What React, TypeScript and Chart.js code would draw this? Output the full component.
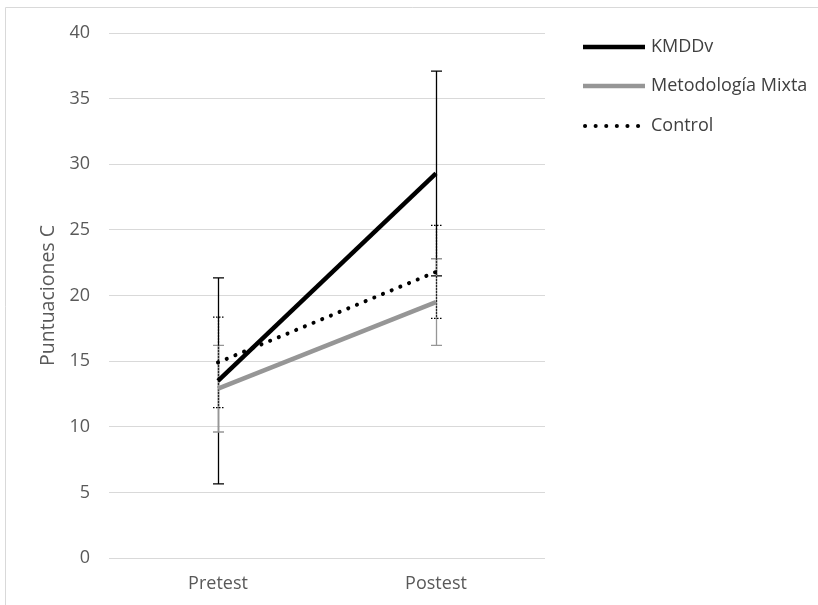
import React, { useEffect, useRef } from "react";
import { Chart, registerables } from "chart.js";

Chart.register(...registerables);

const categories = ["Pretest", "Postest"];
const seriesNames = ["KMDDv", "Metodología Mixta", "Control"];
const kmddvMean = [13.5, 29.3];
const kmddvErr = [7.85, 7.8];
const mixtaMean = [12.9, 19.5];
const mixtaErr = [3.3, 3.3];
const controlMean = [14.9, 21.8];
const controlErr = [3.45, 3.55];
const yTicks = [0, 5, 10, 15, 20, 25, 30, 35, 40];

const FONT = "'Open Sans', sans-serif";
const TEXT = "#595959";
const GRID = "#d9d9d9";
const GRAY = "#969696";

const errors = [kmddvErr, mixtaErr, controlErr];
const errStyles = [
  { color: "#000000", dash: [] as number[] },
  { color: GRAY, dash: [] as number[] },
  { color: "#000000", dash: [1.5, 1.5] },
];

const frameAndErrors = {
  id: "frameAndErrors",
  beforeDatasetsDraw(chart: any) {
    const ctx = chart.ctx;
    const x = chart.scales.x;
    const y = chart.scales.y;
    ctx.save();
    // chart frame (cropped)
    ctx.strokeStyle = GRID;
    ctx.lineWidth = 1;
    ctx.beginPath();
    ctx.moveTo(5.5, 2000);
    ctx.lineTo(5.5, 7.5);
    ctx.lineTo(2000, 7.5);
    ctx.stroke();
    chart.data.datasets.forEach((ds: any, di: number) => {
      const st = errStyles[di];
      ctx.strokeStyle = st.color;
      ctx.setLineDash(st.dash);
      ctx.lineWidth = 1.3;
      ds.data.forEach((v: number, i: number) => {
        const e = errors[di][i];
        const px = Math.round(x.getPixelForValue(i)) + 0.5;
        const top = y.getPixelForValue(v + e);
        const bot = y.getPixelForValue(v - e);
        ctx.beginPath();
        ctx.moveTo(px, top);
        ctx.lineTo(px, bot);
        ctx.moveTo(px - 5.5, top);
        ctx.lineTo(px + 5.5, top);
        ctx.moveTo(px - 5.5, bot);
        ctx.lineTo(px + 5.5, bot);
        ctx.stroke();
      });
    });
    ctx.restore();
  },
  afterDraw(chart: any) {
    const ctx = chart.ctx;
    ctx.save();
    const ys = [47, 86, 126];
    chart.data.datasets.forEach((ds: any, i: number) => {
      const yy = ys[i];
      ctx.strokeStyle = ds.borderColor;
      ctx.lineWidth = ds.borderWidth;
      ctx.lineCap = i === 2 ? "round" : "butt";
      ctx.setLineDash(i === 2 ? [0.1, 10.5] : []);
      ctx.beginPath();
      ctx.moveTo(i === 2 ? 585 : 583, yy);
      ctx.lineTo(645, yy);
      ctx.stroke();
      ctx.setLineDash([]);
      ctx.fillStyle = "#404040";
      ctx.font = `18px ${FONT}`;
      ctx.textBaseline = "middle";
      ctx.textAlign = "left";
      ctx.fillText(ds.label, 651, yy);
    });
    ctx.restore();
  },
};

export default function App() {
  const ref = useRef<HTMLCanvasElement>(null);
  useEffect(() => {
    document.body.style.margin = "0";
    const chart = new Chart(ref.current!, {
      type: "line",
      data: {
        labels: categories,
        datasets: [
          {
            label: seriesNames[0],
            data: kmddvMean,
            borderColor: "#000000",
            borderWidth: 4.5,
            pointRadius: 0,
          },
          {
            label: seriesNames[1],
            data: mixtaMean,
            borderColor: GRAY,
            borderWidth: 4.5,
            pointRadius: 0,
          },
          {
            label: seriesNames[2],
            data: controlMean,
            borderColor: "#000000",
            borderWidth: 4,
            borderDash: [0.1, 9.3],
            borderCapStyle: "round",
            pointRadius: 0,
          },
        ],
      },
      options: {
        animation: false,
        responsive: false,
        devicePixelRatio: 1,
        layout: { padding: { left: 0, right: 273, top: 33, bottom: 0 } },
        plugins: { legend: { display: false }, tooltip: { enabled: false } },
        scales: {
          x: {
            offset: true,
            grid: { display: false },
            border: { display: false },
            ticks: { color: TEXT, font: { size: 18, family: FONT }, padding: 7 },
            afterFit: (s: any) => {
              s.height = 47;
            },
          },
          y: {
            min: 0,
            max: 40,
            afterBuildTicks: (s: any) => {
              s.ticks = yTicks.map((v) => ({ value: v }));
            },
            grid: { color: GRID, lineWidth: 1, drawTicks: false },
            border: { display: false },
            ticks: { color: TEXT, font: { size: 18, family: FONT }, padding: 19 },
            title: {
              display: true,
              text: "Puntuaciones C",
              color: TEXT,
              font: { size: 19.5, family: FONT },
              padding: { top: 37, bottom: 0 },
            },
            afterFit: (s: any) => {
              s.width = 109;
            },
          },
        },
      },
      plugins: [frameAndErrors],
    });
    return () => chart.destroy();
  }, []);
  return (
    <div style={{ width: 818, height: 605 }}>
      <canvas ref={ref} width={818} height={605} style={{ display: "block" }} />
    </div>
  );
}
